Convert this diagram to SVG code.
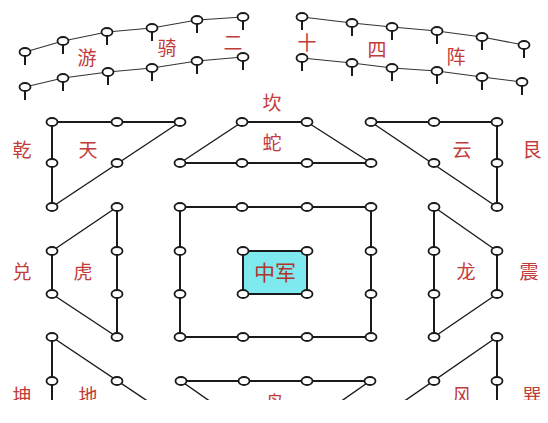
<svg xmlns="http://www.w3.org/2000/svg" width="548" height="423" viewBox="0 0 548 423">
<defs>
<style>
.ln{stroke:#1a1a1a;stroke-width:2;fill:none}
.dg{stroke:#1a1a1a;stroke-width:1.4;fill:none}
.tp{stroke:#333;stroke-width:1.1;fill:none}
.st{stroke:#1a1a1a;stroke-width:2}
.nd{fill:#fff;stroke:#1a1a1a;stroke-width:1.8}
.lb{font-family:"Noto Sans CJK SC","Noto Sans CJK JP",sans-serif;font-size:19px;fill:#c23b3b;text-anchor:middle}
.cj{font-family:"Noto Sans CJK SC","Noto Sans CJK JP",sans-serif;font-size:21px;fill:#b0342c;text-anchor:middle}
</style>
<clipPath id="cut"><rect x="0" y="0" width="548" height="400"/></clipPath>
<ellipse id="n" rx="5.5" ry="4" class="nd"/>
<g id="p"><line x1="0" y1="3" x2="0" y2="13" class="st"/><ellipse rx="5.5" ry="4" class="nd"/></g>
</defs>
<rect width="548" height="423" fill="#fff"/>
<g clip-path="url(#cut)">
<g id="connectors">
<polyline class="tp" points="25,52 63,41 107,32 152,28 197,20 243,17"/>
<polyline class="tp" points="25,87 63,78 108,72 152,68 197,61 243,57"/>
<polyline class="tp" points="302,17 352,23 392,27 437,31 482,37 524,45"/>
<polyline class="tp" points="302,58 352,63 392,68 437,71 482,77 522,82"/>
<path class="ln" d="M180,122 H52 V207"/>
<path class="dg" d="M180,122 L52,207"/>
<path class="ln" d="M242,122 H307 M180,163 H371"/>
<path class="dg" d="M242,122 L180,163 M307,122 L371,163"/>
<path class="ln" d="M371,122 H497 V207"/>
<path class="dg" d="M371,122 L497,207"/>
<rect class="ln" x="180" y="207" width="191" height="130"/>
<path class="ln" d="M117,207 V337 M52,251 V294"/>
<path class="dg" d="M117,207 L52,251 M52,294 L117,337"/>
<path class="ln" d="M434,207 V337 M497,251 V294"/>
<path class="dg" d="M434,207 L497,251 M497,294 L434,337"/>
<path class="ln" d="M52,337 V402"/>
<path class="dg" d="M52,337 L149,402"/>
<path class="ln" d="M181,381 H370"/>
<path class="dg" d="M181,381 L211,402 M370,381 L340,402"/>
<path class="ln" d="M497,337 V402"/>
<path class="dg" d="M497,337 L403,402"/>
</g>
<g id="node-center">
<rect x="243" y="251" width="64" height="43" fill="#7ee9ee" stroke="#1a1a1a" stroke-width="2"/>
<use href="#n" x="243" y="251"/><use href="#n" x="307" y="251"/><use href="#n" x="243" y="294"/><use href="#n" x="307" y="294"/>
<text class="cj" x="275" y="280">中军</text>
</g>
<g id="node-youqi-top-left">
<use href="#p" x="25" y="52"/><use href="#p" x="63" y="41"/><use href="#p" x="107" y="32"/><use href="#p" x="152" y="28"/><use href="#p" x="197" y="20"/><use href="#p" x="243" y="17"/>
<use href="#p" x="25" y="87"/><use href="#p" x="63" y="78"/><use href="#p" x="108" y="72"/><use href="#p" x="152" y="68"/><use href="#p" x="197" y="61"/><use href="#p" x="243" y="57"/>
</g>
<g id="node-youqi-top-right">
<use href="#p" x="302" y="17"/><use href="#p" x="352" y="23"/><use href="#p" x="392" y="27"/><use href="#p" x="437" y="31"/><use href="#p" x="482" y="37"/><use href="#p" x="524" y="45"/>
<use href="#p" x="302" y="58"/><use href="#p" x="352" y="63"/><use href="#p" x="392" y="68"/><use href="#p" x="437" y="71"/><use href="#p" x="482" y="77"/><use href="#p" x="522" y="82"/>
</g>
<g id="node-tian">
<use href="#n" x="52" y="122"/><use href="#n" x="117" y="122"/><use href="#n" x="180" y="122"/><use href="#n" x="52" y="163"/><use href="#n" x="117" y="163"/><use href="#n" x="52" y="207"/>
</g>
<g id="node-she">
<use href="#n" x="242" y="122"/><use href="#n" x="307" y="122"/><use href="#n" x="180" y="163"/><use href="#n" x="242" y="163"/><use href="#n" x="307" y="163"/><use href="#n" x="371" y="163"/>
</g>
<g id="node-yun">
<use href="#n" x="371" y="122"/><use href="#n" x="434" y="122"/><use href="#n" x="497" y="122"/><use href="#n" x="434" y="163"/><use href="#n" x="497" y="163"/><use href="#n" x="497" y="207"/>
</g>
<g id="node-square">
<use href="#n" x="180" y="207"/><use href="#n" x="242" y="207"/><use href="#n" x="307" y="207"/><use href="#n" x="371" y="207"/>
<use href="#n" x="180" y="251"/><use href="#n" x="371" y="251"/><use href="#n" x="180" y="294"/><use href="#n" x="371" y="294"/>
<use href="#n" x="180" y="337"/><use href="#n" x="243" y="337"/><use href="#n" x="307" y="337"/><use href="#n" x="371" y="337"/>
</g>
<g id="node-hu">
<use href="#n" x="117" y="207"/><use href="#n" x="52" y="251"/><use href="#n" x="117" y="251"/><use href="#n" x="52" y="294"/><use href="#n" x="117" y="294"/><use href="#n" x="117" y="337"/>
</g>
<g id="node-long">
<use href="#n" x="434" y="207"/><use href="#n" x="497" y="251"/><use href="#n" x="434" y="251"/><use href="#n" x="497" y="294"/><use href="#n" x="434" y="294"/><use href="#n" x="434" y="337"/>
</g>
<g id="node-di">
<use href="#n" x="52" y="337"/><use href="#n" x="52" y="381"/><use href="#n" x="117" y="381"/>
</g>
<g id="node-niao">
<use href="#n" x="181" y="381"/><use href="#n" x="244" y="381"/><use href="#n" x="307" y="381"/><use href="#n" x="370" y="381"/>
</g>
<g id="node-feng">
<use href="#n" x="497" y="337"/><use href="#n" x="497" y="381"/><use href="#n" x="434" y="381"/>
</g>
<g id="labels">
<text class="lb" x="87" y="65">游</text>
<text class="lb" x="167" y="55">骑</text>
<text class="lb" x="233" y="50">二</text>
<text class="lb" x="307" y="50">十</text>
<text class="lb" x="377" y="57">四</text>
<text class="lb" x="456" y="64">阵</text>
<text class="lb" x="272" y="110">坎</text>
<text class="lb" x="272" y="150">蛇</text>
<text class="lb" x="22" y="157">乾</text>
<text class="lb" x="88" y="157">天</text>
<text class="lb" x="462" y="157">云</text>
<text class="lb" x="532" y="157">艮</text>
<text class="lb" x="22" y="279">兑</text>
<text class="lb" x="83" y="279">虎</text>
<text class="lb" x="466" y="279">龙</text>
<text class="lb" x="529" y="279">震</text>
<text class="lb" x="22" y="403">坤</text>
<text class="lb" x="88" y="403">地</text>
<text class="lb" x="275" y="410">鸟</text>
<text class="lb" x="462" y="403">风</text>
<text class="lb" x="532" y="403">巽</text>
</g>
</g>
</svg>
